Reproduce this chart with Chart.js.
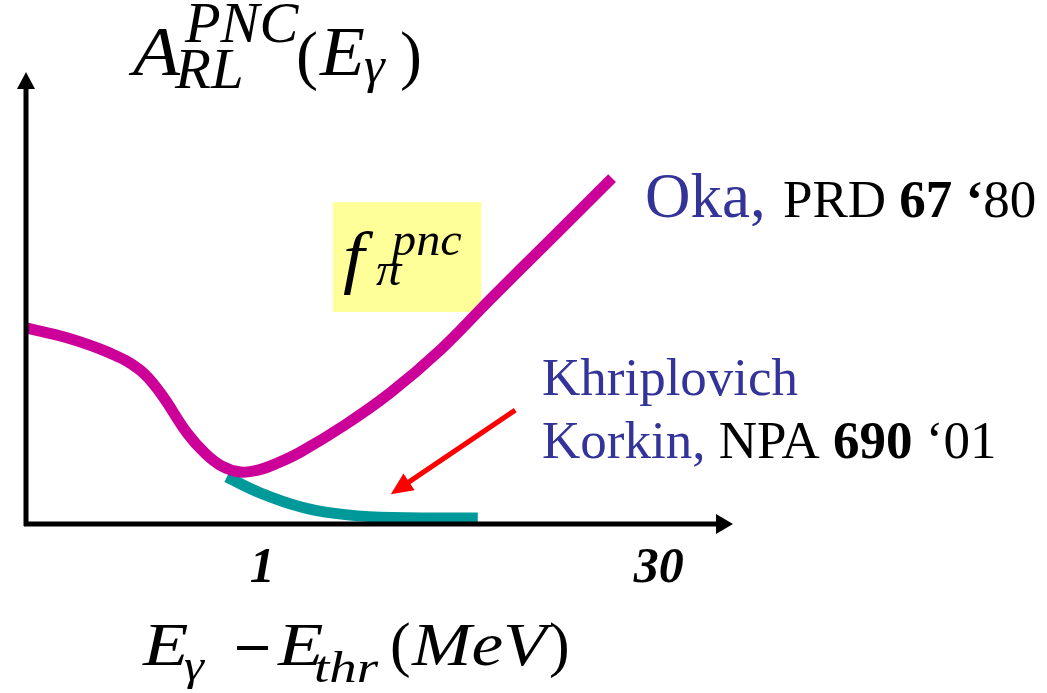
<!DOCTYPE html>
<html>
<head>
<meta charset="utf-8">
<script src="https://cdn.jsdelivr.net/npm/chart.js@4.4.1/dist/chart.umd.min.js"></script>
<style>
  html, body { margin: 0; padding: 0; background: #fff; }
  #wrap { width: 1047px; height: 693px; position: relative; }
</style>
</head>
<body>
<div id="wrap"><canvas id="chart"></canvas></div>
<script>
// curve values (arbitrary units, axis runs 0..100)
const okaX = [0, 5.8, 11.9, 16.1, 19.0, 22.8, 25.3, 27.7, 30.3, 32.8, 35.6, 38.8, 45.1, 51.5, 58.6, 65.6, 74.1, 82.9];
const okaY = [43.4, 41.2, 37.8, 34.1, 29.0, 20.1, 15.7, 12.8, 11.5, 11.9, 13.5, 15.9, 21.9, 29.0, 38.5, 49.6, 62.8, 76.5];
const khrX = [28.4, 33.1, 38.8, 43.4, 50.1, 63.9];
const khrY = [10.4, 6.9, 3.8, 2.4, 1.5, 1.3];
const tickValues = [33.4, 89.5];
const tickLabels = ['1', '30'];
const arrowFrom = [69.2, 25.2];
const arrowTo = [51.6, 6.6];

const SERIF = '"Liberation Serif", "Times New Roman", serif';
const BLUE = '#333399';

function toPoints(xs, ys) {
  return xs.map((x, i) => ({ x: x, y: ys[i] }));
}

function put(ctx, str, x, y, font, color, sx) {
  ctx.save();
  ctx.font = font;
  ctx.fillStyle = color || '#000';
  ctx.textBaseline = 'alphabetic';
  ctx.translate(x, y);
  ctx.scale(sx || 1, 1);
  ctx.fillText(str, 0, 0);
  ctx.restore();
}

// draws pieces one after another on the same baseline
function run(ctx, x, y, pieces) {
  pieces.forEach((p) => {
    ctx.font = p.font;
    put(ctx, p.t, x, y, p.font, p.color);
    x += ctx.measureText(p.t).width;
  });
}

const decor = {
  id: 'decor',
  beforeDatasetsDraw(chart) {
    const ctx = chart.ctx;
    const xs = chart.scales.x, ys = chart.scales.y;
    // yellow box behind f_pi
    const x0 = xs.getPixelForValue(43.4), x1 = xs.getPixelForValue(64.4);
    const y0 = ys.getPixelForValue(71.2), y1 = ys.getPixelForValue(46.9);
    ctx.save();
    ctx.fillStyle = '#FFFF99';
    ctx.fillRect(x0, y0, x1 - x0, y1 - y0);
    ctx.restore();
    put(ctx, 'f', 343, 280, 'italic 70px ' + SERIF, '#000', 1.1);
    put(ctx, 'π', 376, 285, 'italic 46px ' + SERIF, '#000', 1.1);
    put(ctx, 'pnc', 392, 255, 'italic 46px ' + SERIF, '#000', 1.05);
  },
  afterDatasetsDraw(chart) {
    const ctx = chart.ctx;
    const xs = chart.scales.x, ys = chart.scales.y;
    const ox = xs.getPixelForValue(0), oy = ys.getPixelForValue(0);
    const xe = xs.getPixelForValue(100), ye = ys.getPixelForValue(100);

    ctx.save();
    ctx.strokeStyle = '#000';
    ctx.fillStyle = '#000';
    ctx.lineWidth = 5;
    ctx.beginPath();
    ctx.moveTo(ox - 2, oy);
    ctx.lineTo(xe - 14, oy);
    ctx.moveTo(ox, oy + 2);
    ctx.lineTo(ox, ye + 14);
    ctx.stroke();
    // arrow heads
    ctx.beginPath();
    ctx.moveTo(xe, oy);
    ctx.lineTo(xe - 17, oy - 10);
    ctx.lineTo(xe - 17, oy + 10);
    ctx.closePath();
    ctx.fill();
    ctx.beginPath();
    ctx.moveTo(ox, ye);
    ctx.lineTo(ox - 9, ye + 17);
    ctx.lineTo(ox + 9, ye + 17);
    ctx.closePath();
    ctx.fill();

    // red arrow
    const ax = xs.getPixelForValue(arrowFrom[0]), ay = ys.getPixelForValue(arrowFrom[1]);
    const bx = xs.getPixelForValue(arrowTo[0]), by = ys.getPixelForValue(arrowTo[1]);
    const len = Math.hypot(ax - bx, ay - by);
    const ux = (ax - bx) / len, uy = (ay - by) / len;
    const hl = 22, hw = 10;
    ctx.strokeStyle = '#FF0000';
    ctx.fillStyle = '#FF0000';
    ctx.lineWidth = 5;
    ctx.beginPath();
    ctx.moveTo(ax, ay);
    ctx.lineTo(bx + ux * (hl - 4), by + uy * (hl - 4));
    ctx.stroke();
    ctx.beginPath();
    ctx.moveTo(bx, by);
    ctx.lineTo(bx + ux * hl - uy * hw, by + uy * hl + ux * hw);
    ctx.lineTo(bx + ux * hl + uy * hw, by + uy * hl - ux * hw);
    ctx.closePath();
    ctx.fill();
    ctx.restore();

    // tick labels
    ctx.save();
    ctx.font = 'italic bold 50px ' + SERIF;
    ctx.fillStyle = '#000';
    ctx.textAlign = 'center';
    tickValues.forEach((v, i) => {
      ctx.fillText(tickLabels[i], xs.getPixelForValue(v), 582);
    });
    ctx.restore();

    // y title  A_RL^PNC (E_gamma)
    const big = 'italic 70px ' + SERIF, sub = 'italic 56px ' + SERIF;
    put(ctx, 'A', 133, 75, big, '#000', 1.1);
    put(ctx, 'PNC', 185, 42, sub, '#000', 1.04);
    put(ctx, 'RL', 175, 88, sub, '#000', 1.05);
    put(ctx, '(', 296, 77, '66px ' + SERIF, '#000', 1);
    put(ctx, 'E', 320, 75, big, '#000', 1.05);
    put(ctx, 'γ', 364, 82, 'italic 50px ' + SERIF, '#000', 1.05);
    put(ctx, ')', 400, 77, '66px ' + SERIF, '#000', 1);

    // x title  E_gamma - E_thr (MeV)
    const b2 = 'italic 62px ' + SERIF, s2 = 'italic 44px ' + SERIF;
    put(ctx, 'E', 143, 665, b2, '#000', 1.2);
    put(ctx, 'γ', 184, 680, s2, '#000', 1.15);
    ctx.fillStyle = '#000';
    ctx.fillRect(237, 646, 31, 4); // minus sign
    put(ctx, 'E', 278, 665, b2, '#000', 1.2);
    put(ctx, 'thr', 314, 682, s2, '#000', 1.25);
    put(ctx, '(', 390, 665, '62px ' + SERIF, '#000', 1.0);
    put(ctx, 'MeV', 412, 665, b2, '#000', 1.15);
    put(ctx, ')', 549, 665, '62px ' + SERIF, '#000', 1.0);

    // references
    const n53 = '53px ' + SERIF, b53 = 'bold 53px ' + SERIF;
    put(ctx, 'Oka,', 645, 217, '63px ' + SERIF, BLUE);
    run(ctx, 783, 217, [
      { t: 'PRD ', font: n53, color: '#000' },
      { t: '67 ‘', font: b53, color: '#000' },
      { t: '80', font: n53, color: '#000' }
    ]);
    put(ctx, 'Khriplovich', 542, 395, n53, BLUE);
    run(ctx, 542, 458, [
      { t: 'Korkin, ', font: n53, color: BLUE },
      { t: 'NPA ', font: n53, color: '#000' },
      { t: '690', font: b53, color: '#000' },
      { t: ' ‘01', font: n53, color: '#000' }
    ]);
  }
};

new Chart(document.getElementById('chart').getContext('2d'), {
  type: 'scatter',
  data: {
    datasets: [
      {
        label: 'Oka',
        data: toPoints(okaX, okaY),
        showLine: true,
        borderColor: '#CC0099',
        borderWidth: 11,
        borderCapStyle: 'butt',
        tension: 0.4,
        pointRadius: 0,
        pointHoverRadius: 0
      },
      {
        label: 'Khriplovich Korkin',
        data: toPoints(khrX, khrY),
        showLine: true,
        borderColor: '#009999',
        borderWidth: 11,
        borderCapStyle: 'butt',
        tension: 0.4,
        pointRadius: 0,
        pointHoverRadius: 0
      }
    ]
  },
  options: {
    responsive: true,
    maintainAspectRatio: false,
    animation: false,
    layout: { padding: { left: 26, right: 314, top: 72, bottom: 169 } },
    plugins: {
      legend: { display: false },
      tooltip: { enabled: false },
      title: { display: false }
    },
    scales: {
      x: { type: 'linear', min: 0, max: 100, display: false },
      y: { type: 'linear', min: 0, max: 100, display: false }
    }
  },
  plugins: [decor]
});
</script>
</body>
</html>
